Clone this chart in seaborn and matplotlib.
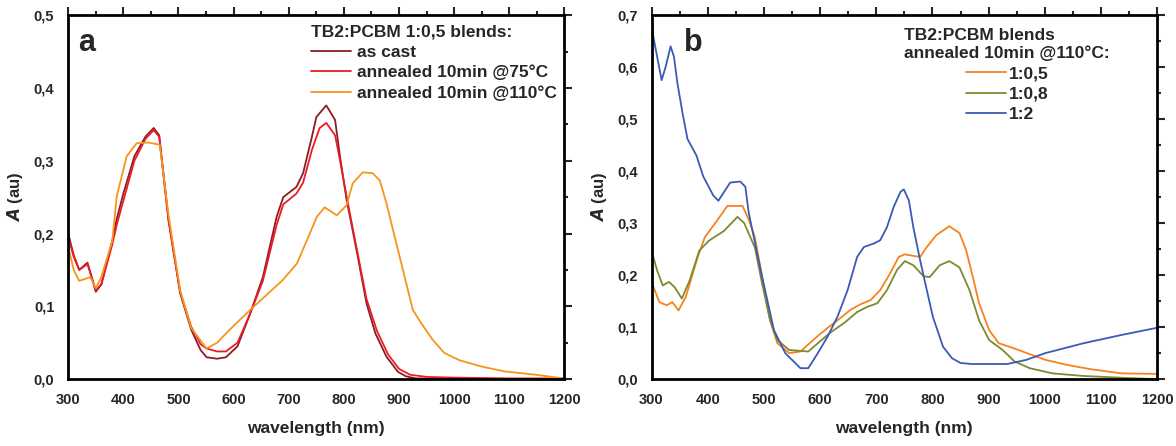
import matplotlib.pyplot as plt
import seaborn as sns
from matplotlib.ticker import MultipleLocator, FuncFormatter

# ---- panel a: TB2:PCBM 1:0,5 blends ----
wl_cast = [300, 310, 320, 335, 350, 360, 380, 388, 400, 420, 440, 455, 465, 482, 503, 523, 540, 551,
           570, 586, 607, 630, 653, 678, 690, 714, 726, 742, 750, 768, 784, 793, 805, 823, 841, 857,
           877, 898, 912, 930, 1000, 1100, 1200]
a_cast = [0.200, 0.170, 0.150, 0.160, 0.120, 0.130, 0.190, 0.220, 0.255, 0.306, 0.333, 0.345, 0.335,
          0.218, 0.118, 0.068, 0.040, 0.030, 0.028, 0.030, 0.045, 0.090, 0.140, 0.223, 0.250, 0.264,
          0.283, 0.333, 0.360, 0.376, 0.356, 0.305, 0.246, 0.177, 0.104, 0.063, 0.031, 0.010, 0.004,
          0.001, 0.0, 0.0, 0.0]

wl_75 = [300, 310, 320, 335, 350, 360, 380, 388, 400, 420, 440, 455, 465, 482, 503, 523, 540, 551,
         570, 586, 607, 630, 653, 678, 690, 714, 726, 742, 756, 768, 784, 793, 805, 823, 841, 860,
         880, 900, 920, 950, 1000, 1100, 1200]
a_75 = [0.195, 0.168, 0.150, 0.158, 0.122, 0.130, 0.185, 0.212, 0.245, 0.300, 0.330, 0.342, 0.333,
        0.218, 0.120, 0.072, 0.048, 0.042, 0.038, 0.038, 0.050, 0.090, 0.135, 0.212, 0.240, 0.255,
        0.270, 0.315, 0.345, 0.352, 0.335, 0.300, 0.250, 0.180, 0.110, 0.066, 0.034, 0.014, 0.006,
        0.003, 0.002, 0.001, 0.001]

wl_110 = [300, 310, 320, 340, 350, 360, 380, 388, 406, 424, 445, 466, 482, 503, 523, 551, 570, 593,
          630, 689, 715, 733, 751, 765, 787, 805, 816, 834, 852, 865, 877, 889, 907, 925, 940, 961,
          982, 1009, 1051, 1092, 1148, 1197]
a_110 = [0.182, 0.150, 0.135, 0.140, 0.125, 0.140, 0.190, 0.251, 0.306, 0.324, 0.325, 0.322, 0.225,
         0.122, 0.070, 0.042, 0.050, 0.068, 0.095, 0.136, 0.159, 0.191, 0.223, 0.236, 0.225, 0.239,
         0.269, 0.284, 0.283, 0.273, 0.242, 0.205, 0.150, 0.095, 0.077, 0.054, 0.036, 0.026, 0.017,
         0.0105, 0.006, 0.001]

# ---- panel b: annealed 10min @110C, different ratios ----
wl_05 = [300, 314, 327, 337, 348, 361, 382, 395, 416, 435, 462, 473, 484, 497, 511, 524, 545, 565,
         596, 613, 631, 654, 672, 690, 707, 725, 740, 751, 766, 778, 790, 807, 830, 848, 860, 872,
         883, 901, 918, 943, 973, 1001, 1041, 1082, 1137, 1201]
a_05 = [0.187, 0.148, 0.142, 0.148, 0.132, 0.158, 0.234, 0.273, 0.304, 0.333, 0.333, 0.307, 0.273,
        0.196, 0.113, 0.069, 0.050, 0.053, 0.083, 0.098, 0.113, 0.133, 0.144, 0.152, 0.171, 0.204,
        0.235, 0.240, 0.237, 0.235, 0.254, 0.277, 0.294, 0.281, 0.248, 0.196, 0.146, 0.094, 0.069,
        0.060, 0.048, 0.037, 0.027, 0.019, 0.011, 0.010]

wl_08 = [300, 310, 320, 331, 341, 354, 368, 385, 402, 429, 453, 465, 484, 497, 511, 524, 545, 579,
         596, 619, 643, 666, 684, 702, 719, 737, 751, 766, 784, 795, 813, 830, 848, 866, 883, 901,
         925, 946, 973, 1014, 1069, 1150, 1201]
a_08 = [0.247, 0.209, 0.180, 0.187, 0.177, 0.155, 0.190, 0.247, 0.266, 0.285, 0.312, 0.300, 0.253,
        0.183, 0.113, 0.075, 0.056, 0.053, 0.069, 0.090, 0.108, 0.129, 0.139, 0.146, 0.171, 0.210,
        0.227, 0.219, 0.198, 0.196, 0.219, 0.227, 0.215, 0.171, 0.113, 0.075, 0.056, 0.034, 0.021,
        0.011, 0.006, 0.002, 0.0]

wl_2 = [300, 303, 309, 318, 325, 334, 340, 346, 355, 364, 380, 392, 410, 419, 428, 440, 458, 467,
        473, 497, 518, 538, 565, 579, 596, 613, 631, 649, 666, 678, 696, 707, 719, 731, 743, 749,
        758, 766, 778, 790, 801, 819, 835, 850, 870, 933, 967, 1001, 1069, 1137, 1201]
a_2 = [0.700, 0.660, 0.626, 0.575, 0.600, 0.640, 0.620, 0.570, 0.513, 0.462, 0.430, 0.390, 0.353,
       0.343, 0.358, 0.378, 0.380, 0.370, 0.320, 0.196, 0.094, 0.050, 0.021, 0.021, 0.050, 0.081,
       0.120, 0.171, 0.235, 0.254, 0.261, 0.267, 0.292, 0.331, 0.360, 0.365, 0.344, 0.292, 0.229,
       0.171, 0.119, 0.062, 0.040, 0.031, 0.029, 0.029, 0.037, 0.050, 0.069, 0.085, 0.099]

sns.set_style("white")
plt.rcParams['font.family'] = ['Liberation Sans', 'DejaVu Sans']
plt.rcParams['font.weight'] = 'bold'

fig = plt.figure(figsize=(11.76, 4.46), dpi=100)
ax1 = fig.add_axes([0.058, 0.150, 0.422, 0.816])
ax2 = fig.add_axes([0.554, 0.150, 0.430, 0.816])

c_cast, c_75, c_110 = '#8b1c24', '#ec1c24', '#f7941d'
c_05, c_08, c_2 = '#f7821e', '#7d8a2e', '#3a5bb5'

sns.lineplot(x=wl_cast, y=a_cast, ax=ax1, color=c_cast, lw=1.3, sort=False, label='as cast')
sns.lineplot(x=wl_75, y=a_75, ax=ax1, color=c_75, lw=1.3, sort=False, label='annealed 10min @75°C')
sns.lineplot(x=wl_110, y=a_110, ax=ax1, color=c_110, lw=1.3, sort=False, label='annealed 10min @110°C')

sns.lineplot(x=wl_05, y=a_05, ax=ax2, color=c_05, lw=1.3, sort=False, label='1:0,5')
sns.lineplot(x=wl_08, y=a_08, ax=ax2, color=c_08, lw=1.3, sort=False, label='1:0,8')
sns.lineplot(x=wl_2, y=a_2, ax=ax2, color=c_2, lw=1.3, sort=False, label='1:2')

comma = FuncFormatter(lambda v, p: f"{v:.1f}".replace('.', ','))
for ax, ymax in [(ax1, 0.5), (ax2, 0.7)]:
    ax.set_xlim(300, 1200)
    ax.set_ylim(0, ymax)
    ax.xaxis.set_major_locator(MultipleLocator(100))
    ax.xaxis.set_minor_locator(MultipleLocator(50))
    ax.yaxis.set_major_locator(MultipleLocator(0.1))
    ax.yaxis.set_minor_locator(MultipleLocator(0.05))
    ax.yaxis.set_major_formatter(comma)
    ax.tick_params(which='both', direction='out', top=True, right=True, labelsize=10.5, width=1.5)
    ax.tick_params(which='major', length=6, pad=4)
    ax.tick_params(which='minor', length=3)
    for s in ax.spines.values():
        s.set_linewidth(2)
        s.set_color('black')
    ax.set_xlabel('wavelength (nm)', fontsize=12.5, fontweight='bold', labelpad=10)
    ax.set_ylabel(r'$\it{A}$ (au)', fontsize=12, fontweight='bold', labelpad=6)

ax1.text(0.02, 0.965, 'a', transform=ax1.transAxes, fontsize=22, fontweight='bold', va='top')
ax2.text(0.065, 0.965, 'b', transform=ax2.transAxes, fontsize=22, fontweight='bold', va='top')

leg1 = ax1.legend(title='TB2:PCBM 1:0,5 blends:', loc='upper left', bbox_to_anchor=(0.49, 0.975),
                  frameon=False, fontsize=12.5, title_fontsize=12.5, handlelength=2.3,
                  labelspacing=0.3, handletextpad=0.3, borderpad=0, borderaxespad=0)
leg1._legend_box.align = 'left'
leg2 = ax2.legend(title='TB2:PCBM blends\nannealed 10min @110°C:', loc='upper left',
                  bbox_to_anchor=(0.50, 0.965), frameon=False, fontsize=12.5, title_fontsize=12.5,
                  handlelength=2.3, labelspacing=0.3, handletextpad=0.2, borderpad=0,
                  borderaxespad=0)
for leg in (leg1, leg2):
    leg.get_title().set_fontweight('bold')

fig.savefig('out.png', dpi=100)
